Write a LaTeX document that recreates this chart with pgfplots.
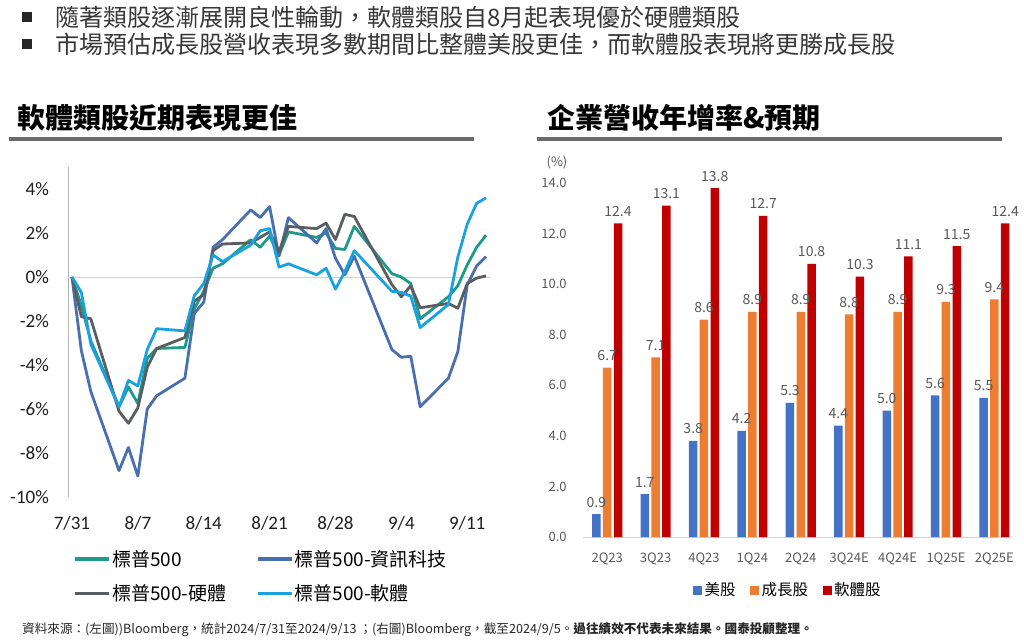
\documentclass[border=0pt]{standalone}
\usepackage{fontspec}
\usepackage{pgfplots}
\usepackage{pgfplotstable}
\pgfplotsset{compat=1.18}
\setmainfont{Noto Sans CJK TC}
\newfontfamily\carlito{Carlito}
\definecolor{cTeal}{HTML}{1D9A8C}
\definecolor{cIT}{HTML}{4A6FAE}
\definecolor{cHW}{HTML}{595E63}
\definecolor{cSW}{HTML}{1AA1E0}
\definecolor{bUS}{HTML}{4472C4}
\definecolor{bGR}{HTML}{ED7D31}
\definecolor{bSW}{HTML}{C00000}
\definecolor{lblgray}{HTML}{595959}

\pgfplotstableread{
d sp it hw sw
0 0 0 0 0
1 -1.3 -3.35 -1.8 -0.7
2 -2.9 -5.2 -1.9 -3.05
5 -5.9 -8.8 -6.1 -5.9
6 -5.0 -7.75 -6.65 -4.7
7 -5.75 -9.05 -5.95 -4.95
8 -3.7 -6.0 -4.1 -3.3
9 -3.25 -5.4 -3.25 -2.35
12 -3.2 -4.6 -2.75 -2.45
13 -1.45 -1.65 -1.1 -0.85
14 -0.65 -1.15 -0.8 -0.3
15 0.4 1.35 1.2 1.0
16 0.6 1.7 1.5 0.7
19 1.7 3.05 1.55 1.45
20 1.35 2.7 1.8 2.1
21 1.85 3.2 2.05 2.2
22 1.0 0.95 1.15 0.45
23 2.05 2.7 2.3 0.6
26 1.8 1.55 2.2 0.1
27 2.0 2.2 2.45 0.4
28 1.3 0.85 1.7 -0.55
29 1.25 0.1 2.85 0.25
30 2.3 0.95 2.75 1.2
34 0.15 -3.3 -0.35 -0.65
35 0.0 -3.65 -0.9 -0.7
36 -0.3 -3.6 -0.4 -0.87
37 -1.9 -5.9 -1.4 -2.3
40 -0.9 -4.6 -1.2 -1.25
41 -0.4 -3.4 -1.42 0.9
42 0.55 -0.35 -0.3 2.4
43 1.35 0.5 -0.05 3.35
44 1.9 0.93 0.05 3.6
}\lines

\pgfplotstableread{
x us gr sw
0 0.9 6.7 12.4
1 1.7 7.1 13.1
2 3.8 8.6 13.8
3 4.2 8.9 12.7
4 5.3 8.9 10.8
5 4.4 8.8 10.3
6 5.0 8.9 11.1
7 5.6 9.3 11.5
8 5.5 9.4 12.4
}\bars

\begin{document}
\begin{tikzpicture}
\useasboundingbox[fill=white] (0pt,0pt) rectangle (1024pt,641pt);
% bullets
\fill[black!85] (22pt,619pt) rectangle (32pt,629pt);
\node[anchor=west,inner sep=0,font=\fontsize{24}{28}\selectfont,text=black!78] at (55pt,624pt) {隨著類股逐漸展開良性輪動，軟體類股自8月起表現優於硬體類股};
\fill[black!85] (22pt,592pt) rectangle (32pt,602pt);
\node[anchor=west,inner sep=0,font=\fontsize{24}{28}\selectfont,text=black!78] at (55pt,597pt) {市場預估成長股營收表現多數期間比整體美股更佳，而軟體股表現將更勝成長股};
% section titles
\node[anchor=west,inner sep=0,font=\bfseries\fontsize{28}{32}\selectfont] at (17pt,523pt) {軟體類股近期表現更佳};
\fill[black!58] (9pt,500.3pt) rectangle (474pt,504.3pt);
\node[anchor=west,inner sep=0,font=\bfseries\fontsize{28}{32}\selectfont] at (547pt,523pt) {企業營收年增率\&預期};
\fill[black!58] (537pt,500.3pt) rectangle (1002pt,504.3pt);

% left chart
\begin{axis}[
  at={(68.2pt,144pt)}, anchor=south west, scale only axis,
  width=421.6pt, height=330pt,
  xmin=-0.4, xmax=44.4, ymin=-10, ymax=5,
  axis lines=left, axis line style={-},
  x axis line style={draw=none},
  y axis line style={draw=black!30, line width=0.8pt},
  tick style={draw=none},
  /pgf/number format/assume math mode=true,
  xtick={0,7,14,21,28,35,42},
  xticklabels={7/31,8/7,8/14,8/21,8/28,9/4,9/11},
  ytick={-10,-8,...,4},
  yticklabel={\pgfmathprintnumber{\tick}\%},
  ticklabel style={font=\carlito\fontsize{19}{19}\selectfont, text=black!88},
  yticklabel style={anchor=east, inner sep=0pt, xshift=-17pt},
  xticklabel style={anchor=base, inner sep=0pt, yshift=-30.3pt},
  extra y ticks={0}, extra y tick labels={},
  extra y tick style={grid=major, major grid style={black!18, line width=0.8pt}},
  clip=false,
  legend columns=2,
  legend cell align=left,
  legend style={at={(axis description cs:0.0114,-0.156)}, anchor=north west, draw=none, fill=none,
    font=\fontsize{19}{19}\selectfont, inner sep=0pt, row sep=14pt,
    nodes={inner sep=1.5pt},
    /tikz/every even column/.append style={column sep=28pt}},
  legend image code/.code={\draw[#1, line width=3.4pt] (0pt,0pt) -- (34pt,0pt);},
  every axis plot/.append style={line width=2.8pt, line join=round},
]
\addplot[cTeal] table[x=d,y=sp] {\lines};
\addlegendentry{標普500}
\addplot[cIT] table[x=d,y=it] {\lines};
\addlegendentry{標普500-資訊科技}
\addplot[cHW] table[x=d,y=hw] {\lines};
\addlegendentry{標普500-硬體}
\addplot[cSW] table[x=d,y=sw] {\lines};
\addlegendentry{標普500-軟體}
\end{axis}

% right chart
\begin{axis}[
  at={(583pt,104pt)}, anchor=south west, scale only axis,
  width=428.3pt, height=366.7pt,
  xmin=-0.5, xmax=8.35, ymin=0, ymax=14.5,
  ybar=2.3pt, bar width=8.5pt,
  axis lines=left, axis line style={-},
  y axis line style={draw=none},
  x axis line style={draw=black!18, line width=0.8pt},
  tick style={draw=none},
  /pgf/number format/assume math mode=true,
  xtick={0,...,8},
  xticklabels={2Q23,3Q23,4Q23,1Q24,2Q24,3Q24E,4Q24E,1Q25E,2Q25E},
  ytick={0,2,...,14},
  yticklabel={\pgfmathprintnumber[fixed,fixed zerofill,precision=1]{\tick}},
  ticklabel style={font=\fontsize{13}{13}\selectfont, text=lblgray},
  yticklabel style={anchor=east, inner sep=0pt, xshift=-14pt},
  xticklabel style={anchor=base, inner sep=0pt, yshift=-23pt},
  nodes near coords={\pgfmathprintnumber[fixed,fixed zerofill,precision=1]{\pgfplotspointmeta}},
  every node near coord/.append style={font=\fontsize{14}{14}\selectfont, text=lblgray, anchor=base, inner sep=0pt, yshift=7pt},
  clip=false,
  legend columns=3,
  legend style={at={(axis description cs:0.479,-0.145)}, anchor=center, draw=none, fill=none,
    font=\fontsize{15.5}{15.5}\selectfont, inner sep=0pt,
    nodes={inner sep=2.5pt},
    /tikz/every even column/.append style={column sep=12pt}},
  legend image code/.code={\fill[#1] (0pt,-4.5pt) rectangle (9pt,4.5pt);},
]
\addplot[fill=bUS, draw=none] table[x=x,y=us] {\bars};
\addlegendentry{美股}
\addplot[fill=bGR, draw=none] table[x=x,y=gr] {\bars};
\addlegendentry{成長股}
\addplot[fill=bSW, draw=none] table[x=x,y=sw] {\bars};
\addlegendentry{軟體股}
\node[font=\fontsize{13}{13}\selectfont, text=lblgray] at (axis cs:-0.5,14.5) [xshift=-26pt, yshift=8pt] {(\%)};
\end{axis}

% footer
\node[anchor=west,inner sep=0,font=\fontsize{12.6}{14}\selectfont,text=black!85] at (22pt,11pt) {資料來源：(左圖))Bloomberg，統計2024/7/31至2024/9/13 ；(右圖)Bloomberg，截至2024/9/5。\textbf{過往績效不代表未來結果。國泰投顧整理。}};
\end{tikzpicture}
\end{document}
